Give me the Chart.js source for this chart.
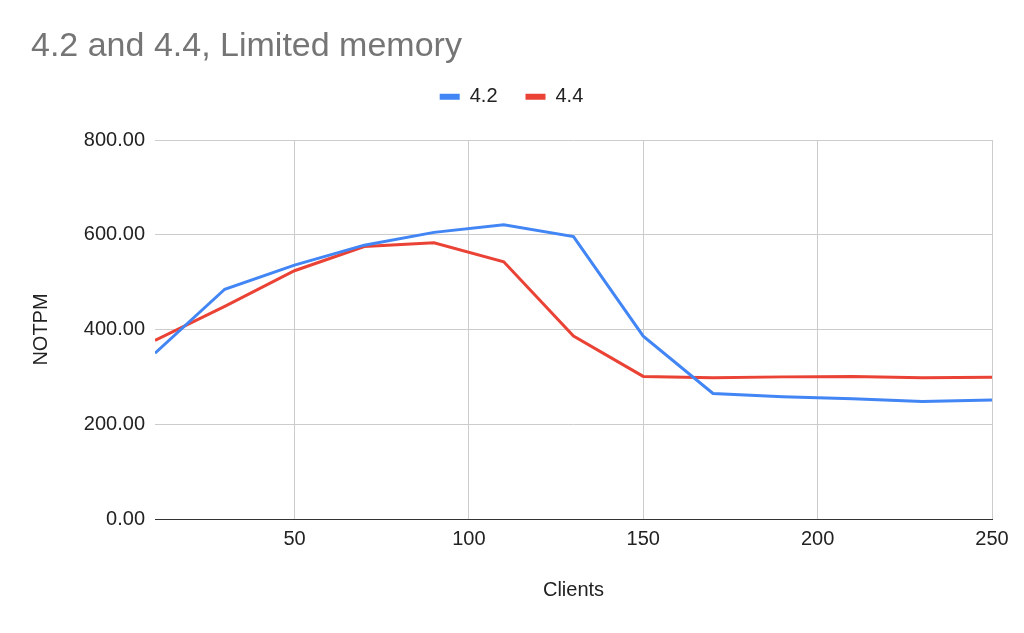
<!DOCTYPE html>
<html>
<head>
<meta charset="utf-8">
<script src="https://cdn.jsdelivr.net/npm/chart.js@4.4.1/dist/chart.umd.min.js"></script>
<style>
  html, body { margin: 0; padding: 0; background: #ffffff; }
  #wrap { width: 1024px; height: 633px; position: relative; }
</style>
</head>
<body>
<div id="wrap"><canvas id="c"></canvas></div>
<script>
const chartTitle = '4.2 and 4.4, Limited memory';
const clients = [10, 30, 50, 70, 90, 110, 130, 150, 170, 190, 210, 230, 250];
const series42 = [350, 485, 536, 578, 605, 621, 596, 386, 265, 258, 254, 248, 251];
const series44 = [377, 449, 524, 575, 583, 543, 386, 301, 298, 300, 301, 298, 299];
const xTicks = [50, 100, 150, 200, 250];
const yTicks = [0, 200, 400, 600, 800];
const xTitle = 'Clients';
const yTitle = 'NOTPM';

const FONT = '"Liberation Sans", Arial, sans-serif';

const toPoints = (xs, ys) => xs.map((x, i) => ({ x: x, y: ys[i] }));

new Chart(document.getElementById('c'), {
  type: 'line',
  data: {
    datasets: [
      { label: '4.2', data: toPoints(clients, series42), borderColor: '#4285F4', backgroundColor: '#4285F4',
        borderWidth: 3, pointRadius: 0, tension: 0, fill: false },
      { label: '4.4', data: toPoints(clients, series44), borderColor: '#EA4335', backgroundColor: '#EA4335',
        borderWidth: 3, pointRadius: 0, tension: 0, fill: false }
    ]
  },
  options: {
    responsive: true,
    maintainAspectRatio: false,
    animation: false,
    devicePixelRatio: 1,
    layout: { padding: { top: 35, left: 31, right: 32, bottom: 30 } },
    plugins: {
      title: {
        display: true, text: chartTitle, align: 'start', color: '#757575',
        font: { family: FONT, size: 34, weight: 'normal', lineHeight: 0.7 },
        padding: { top: 0, bottom: 0 }
      },
      subtitle: {
        display: true, text: '', weight: 500,
        font: { family: FONT, size: 10, lineHeight: 1 },
        padding: { top: 13.2, bottom: 0 }
      },
      legend: {
        display: true, position: 'top', align: 'center',
        labels: {
          boxWidth: 20, boxHeight: 6, padding: 28, color: '#222222',
          font: { family: FONT, size: 20 },
          generateLabels: (chart) => Chart.defaults.plugins.legend.labels.generateLabels(chart)
            .map(l => Object.assign(l, { lineWidth: 0, strokeStyle: l.fillStyle }))
        }
      },
      tooltip: { enabled: false }
    },
    scales: {
      x: {
        type: 'linear', min: 10, max: 250,
        afterBuildTicks: (s) => { s.ticks = xTicks.map(v => ({ value: v })); },
        afterFit: (s) => { s.height = 84; },
        grid: { color: '#cccccc', lineWidth: 1, drawTicks: false },
        border: { display: true, color: '#333333', width: 1 },
        ticks: { color: '#222222', padding: 8, font: { family: FONT, size: 20 }, maxRotation: 0, autoSkip: false },
        title: { display: true, text: xTitle, color: '#222222', font: { family: FONT, size: 20, lineHeight: 1.2 },
                 padding: { top: 0, bottom: 1 } }
      },
      y: {
        type: 'linear', min: 0, max: 800,
        afterBuildTicks: (s) => { s.ticks = yTicks.map(v => ({ value: v })); },
        afterFit: (s) => { s.width = 124; },
        grid: { color: (ctx) => (ctx.tick && ctx.tick.value === 0 ? '#333333' : '#cccccc'), lineWidth: 1, drawTicks: false },
        border: { display: false },
        ticks: { color: '#222222', padding: 10, font: { family: FONT, size: 20 },
                 callback: (v) => Number(v).toFixed(2) },
        title: { display: true, text: yTitle, color: '#222222', font: { family: FONT, size: 20, lineHeight: 1 },
                 padding: { top: 0, bottom: 0 } }
      }
    }
  }
});
</script>
</body>
</html>
